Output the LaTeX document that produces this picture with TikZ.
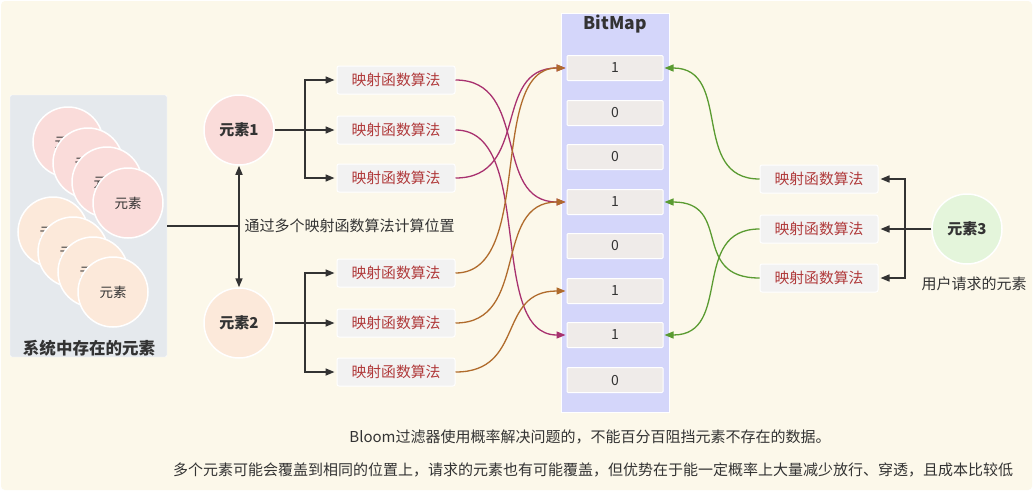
\documentclass[tikz,border=0pt]{standalone}
\usepackage{fontspec}
\setmainfont{Noto Sans CJK SC}
\usetikzlibrary{arrows.meta}

\definecolor{cream}{HTML}{FCF8EA}
\definecolor{panel}{HTML}{E5E9ED}
\definecolor{pinkfill}{HTML}{FADCDA}
\definecolor{peachfill}{HTML}{FCE9DA}
\definecolor{greenfill}{HTML}{E4F5DB}
\definecolor{boxgray}{HTML}{F2F2F2}
\definecolor{algored}{HTML}{B0393A}
\definecolor{bitfill}{HTML}{D4D6FA}
\definecolor{cellgray}{HTML}{EFEBE9}
\definecolor{ink}{HTML}{333333}
\definecolor{hitpurple}{HTML}{A8316F}
\definecolor{hitorange}{HTML}{B06B2C}
\definecolor{hitgreen}{HTML}{5A9B31}

\begin{document}
\begin{tikzpicture}[x=1pt, y=-1pt,
    every node/.style={font=\fontsize{14}{16}\selectfont, text=ink},
    ball/.style={circle, draw=white, line width=1.5pt, minimum size=70pt, inner sep=0pt},
    algo/.style={rectangle, rounded corners=2pt, draw=white, line width=1pt, fill=boxgray,
                 text=algored, font=\fontsize{14.8}{16}\selectfont,
                 minimum width=118pt, minimum height=28pt, inner sep=0pt},
    bit/.style={rectangle, rounded corners=1pt, draw=white, line width=1pt, fill=cellgray,
                minimum width=96pt, minimum height=25pt, inner sep=0pt},
    link/.style={draw=ink, line width=1.6pt},
    tip/.style={-{Triangle[length=9pt, width=7pt]}},
    hit/.style={line width=1.3pt, -{Triangle[length=9pt, width=7pt]}, shorten >=1pt}]

                        % page
                        \fill[white] (0,0) rectangle (1033,491);
                        \fill[cream, rounded corners=4pt] (1,1) rectangle (1032,490);
                        \useasboundingbox (0,0) rectangle (1033,491);

                        % elements already stored
                        \node[fill=panel, draw=white, rounded corners=2pt, minimum width=157pt,
                              minimum height=262pt, inner sep=0pt] (pool) at (88.5,226) {};
                        \node[ball, fill=pinkfill, font=\fontsize{13.5}{15}\selectfont] (p1) at (68,142) {元素};
                        \node[ball, fill=pinkfill, font=\fontsize{13.5}{15}\selectfont] (p2) at (88,163) {元素};
                        \node[ball, fill=pinkfill, font=\fontsize{13.5}{15}\selectfont] (p3) at (107,182) {元素};
                        \node[ball, fill=pinkfill, font=\fontsize{13.5}{15}\selectfont] (p4) at (128,203) {元素};
                        \node[ball, fill=peachfill, font=\fontsize{13.5}{15}\selectfont] (q1) at (53,232) {元素};
                        \node[ball, fill=peachfill, font=\fontsize{13.5}{15}\selectfont] (q2) at (73,252) {元素};
                        \node[ball, fill=peachfill, font=\fontsize{13.5}{15}\selectfont] (q3) at (93,272) {元素};
                        \node[ball, fill=peachfill, font=\fontsize{13.5}{15}\selectfont] (q4) at (113,292) {元素};
                        \node[font=\bfseries\fontsize{16.5}{18}\selectfont] (poollabel) at (89,348) {系统中存在的元素};

                        % elements 1 and 2
                        \node[ball, fill=pinkfill, font=\bfseries\fontsize{15}{17}\selectfont] (e1) at (239,130) {元素1};
                        \node[ball, fill=peachfill, font=\bfseries\fontsize{15}{17}\selectfont] (e2) at (239,323) {元素2};
                        \node[anchor=west, font=\fontsize{15}{17}\selectfont] (via) at (241,226) {通过多个映射函数算法计算位置};

                        \node[algo] (m1) at (396,80) {映射函数算法};
                        \node[algo] (m2) at (396,130) {映射函数算法};
                        \node[algo] (m3) at (396,178) {映射函数算法};
                        \node[algo] (m4) at (396,273) {映射函数算法};
                        \node[algo] (m5) at (396,323) {映射函数算法};
                        \node[algo] (m6) at (396,372) {映射函数算法};

                        \coordinate (k1) at (305,130);
                        \coordinate (k2) at (305,323);

                        \draw[link] (pool.east) -- (pool.east -| e1);
                        \draw[link, {Triangle[length=9pt, width=7pt]}-{Triangle[length=9pt, width=7pt]}] (e1) -- (e2);
                        \draw[link] (e1) -- (k1);
                        \draw[link, tip, shorten >=2pt] (k1) |- (m1);
                        \draw[link, tip, shorten >=2pt] (k1) -- (m2);
                        \draw[link, tip, shorten >=2pt] (k1) |- (m3);
                        \draw[link] (e2) -- (k2);
                        \draw[link, tip, shorten >=2pt] (k2) |- (m4);
                        \draw[link, tip, shorten >=2pt] (k2) -- (m5);
                        \draw[link, tip, shorten >=2pt] (k2) |- (m6);

                        % bitmap
                        \node[fill=bitfill, draw=white, line width=1pt, minimum width=108pt,
                              minimum height=399pt, inner sep=0pt] (bitmap) at (615,212.5) {};
                        \node[font=\bfseries\fontsize{17.5}{19}\selectfont] (bittitle) at (615,24) {BitMap};
                        \node[bit] (b1) at (615,68) {1};
                        \node[bit] (b2) at (615,113) {0};
                        \node[bit] (b3) at (615,157) {0};
                        \node[bit] (b4) at (615,202) {1};
                        \node[bit] (b5) at (615,246) {0};
                        \node[bit] (b6) at (615,291) {1};
                        \node[bit] (b7) at (615,335) {1};
                        \node[bit] (b8) at (615,380) {0};

                        \draw[hit, hitpurple] (m1.east) .. controls +(75,0) and +(-75,0) .. (b4.west);
                        \draw[hit, hitpurple] (m2.east) .. controls +(80,0) and +(-80,0) .. (b7.west);
                        \draw[hit, hitpurple] (m3.east) .. controls +(75,0) and +(-75,0) .. (b1.west);
                        \draw[hit, hitorange] (m4.east) .. controls +(80,0) and +(-80,0) .. (b1.west);
                        \draw[hit, hitorange] (m5.east) .. controls +(75,0) and +(-75,0) .. (b4.west);
                        \draw[hit, hitorange] (m6.east) .. controls +(70,0) and +(-70,0) .. (b6.west);

                        % requested element
                        \node[ball, fill=greenfill, font=\bfseries\fontsize{15}{17}\selectfont] (e3) at (967,229) {元素3};
                        \node[font=\fontsize{15}{17}\selectfont] (asked) at (974,284) {用户请求的元素};
                        \node[algo] (r1) at (819,179) {映射函数算法};
                        \node[algo] (r2) at (819,229) {映射函数算法};
                        \node[algo] (r3) at (819,278) {映射函数算法};

                        \coordinate (k3) at (905,229);
                        \draw[link] (e3) -- (k3);
                        \draw[link, tip, shorten >=2pt] (k3) |- (r1);
                        \draw[link, tip, shorten >=2pt] (k3) -- (r2);
                        \draw[link, tip, shorten >=2pt] (k3) |- (r3);

                        \draw[hit, hitgreen] (r1.west) .. controls +(-70,0) and +(70,0) .. (b1.east);
                        \draw[hit, hitgreen] (r2.west) .. controls +(-70,0) and +(70,0) .. (b7.east);
                        \draw[hit, hitgreen] (r3.west) .. controls +(-70,0) and +(70,0) .. (b4.east);

                        % notes
                        \node[font=\fontsize{15}{17}\selectfont] (note1) at (590,437) {Bloom过滤器使用概率解决问题的，不能百分百阻挡元素不存在的数据。};
                        \node[font=\fontsize{15}{17}\selectfont] (note2) at (593,470) {多个元素可能会覆盖到相同的位置上，请求的元素也有可能覆盖，但优势在于能一定概率上大量减少放行、穿透，且成本比较低};
                    \end{tikzpicture}
\end{document}
